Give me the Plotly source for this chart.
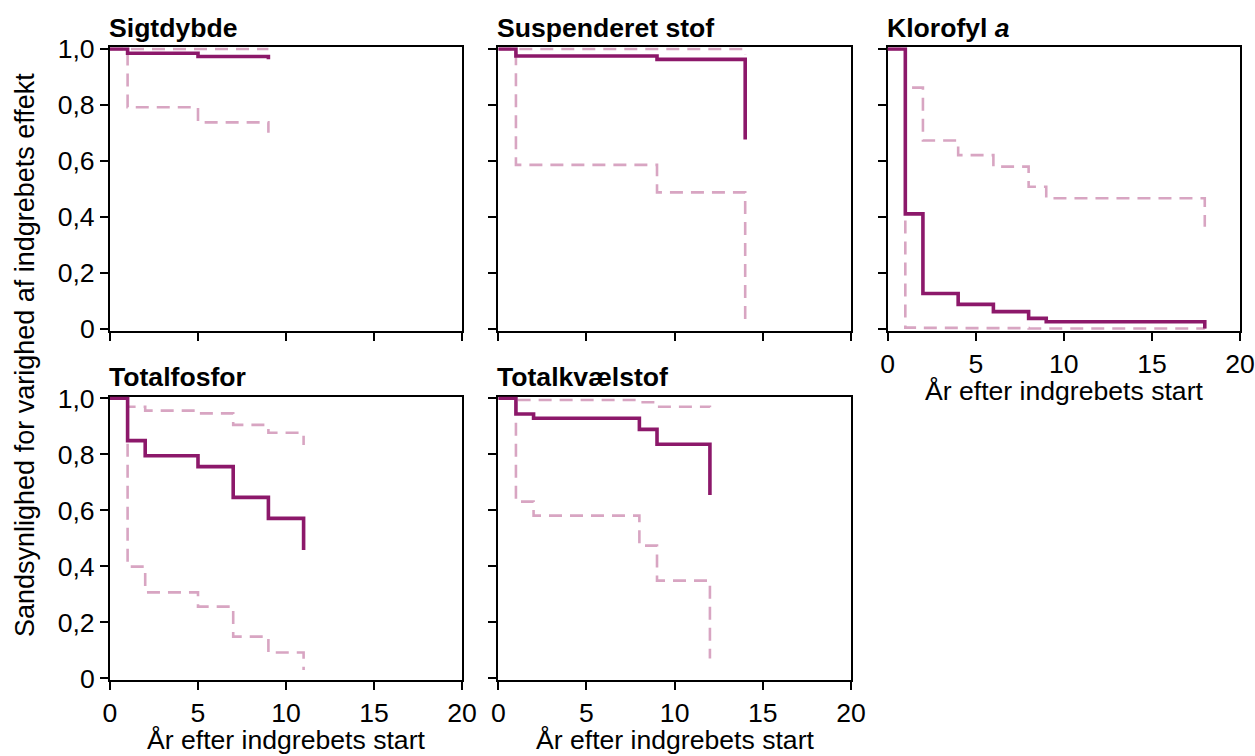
import plotly.graph_objects as go

# ---------------- data ----------------
titles = ["<b>Sigtdybde</b>", "<b>Suspenderet stof</b>", "<b>Klorofyl <i>a</i></b>",
          "<b>Totalfosfor</b>", "<b>Totalkvælstof</b>"]

sig_t = [0, 1, 5, 9]
sig_est = [1.0, 0.985, 0.973, 0.963]
sig_hi = [1.0, 1.0, 1.0, 1.0]
sig_lo = [1.0, 0.792, 0.738, 0.701]

sus_t = [0, 1, 9, 14]
sus_est = [1.0, 0.975, 0.963, 0.677]
sus_hi = [1.0, 1.0, 1.0, 0.981]
sus_lo = [1.0, 0.586, 0.488, 0.032]

klo_t = [0, 1, 2, 4, 6, 8, 9, 18]
klo_est = [1.0, 0.411, 0.127, 0.088, 0.062, 0.038, 0.026, 0.002]
klo_hi = [1.0, 0.862, 0.673, 0.621, 0.580, 0.508, 0.467, 0.365]
klo_lo = [1.0, 0.005, 0.004, 0.003, 0.003, 0.002, 0.002, 0.001]

tp_t = [0, 1, 2, 5, 7, 9, 11]
tp_est = [1.0, 0.849, 0.795, 0.756, 0.646, 0.571, 0.458]
tp_hi = [1.0, 0.970, 0.956, 0.946, 0.905, 0.877, 0.833]
tp_lo = [1.0, 0.399, 0.307, 0.256, 0.149, 0.092, 0.030]

tn_t = [0, 1, 2, 8, 9, 12]
tn_est = [1.0, 0.944, 0.929, 0.889, 0.836, 0.655]
tn_hi = [1.0, 0.994, 0.994, 0.986, 0.970, 0.968]
tn_lo = [1.0, 0.631, 0.581, 0.474, 0.349, 0.071]

y_tickvals = [0, 0.2, 0.4, 0.6, 0.8, 1.0]
y_ticktext = ["0", "0,2", "0,4", "0,6", "0,8", "1,0"]
x_tickvals = [0, 5, 10, 15, 20]
x_ticktext = ["0", "5", "10", "15", "20"]

x_title = "År efter indgrebets start"
y_title = "Sandsynlighed for varighed af indgrebets effekt"

panels = [
    (sig_t, sig_est, sig_hi, sig_lo),
    (sus_t, sus_est, sus_hi, sus_lo),
    (klo_t, klo_est, klo_hi, klo_lo),
    (tp_t, tp_est, tp_hi, tp_lo),
    (tn_t, tn_est, tn_hi, tn_lo),
]

# ---------------- layout geometry (pixels) ----------------
W, H = 1255, 756
col_px = [(110, 462), (498.3, 851), (887.7, 1240)]
row_px = [(49, 329), (398.3, 678.3)]  # y pixel of value 1.0 and 0.0
pad = 0.006
YR = [-pad, 1 + pad]

SOLID = "#8C186A"
DASH = "#D8A5C2"
FONT = "Liberation Sans, Arial, Helvetica, sans-serif"
FS = 26.6
TFS = 27

fig = go.Figure()
layout = dict(
    width=W, height=H, autosize=False,
    margin=dict(l=0, r=0, t=0, b=0, pad=0),
    paper_bgcolor="white", plot_bgcolor="white",
    showlegend=False,
    font=dict(family=FONT, size=FS, color="black"),
)

positions = [(0, 0), (0, 1), (0, 2), (1, 0), (1, 1)]
annotations = []
for i, ((r, c), (t, est, hi, lo)) in enumerate(zip(positions, panels)):
    k = i + 1
    xa = "x" if k == 1 else f"x{k}"
    ya = "y" if k == 1 else f"y{k}"
    x0, x1 = col_px[c]
    ytop, ybot = row_px[r]
    ppu = ybot - ytop
    top_px = ytop - pad * ppu
    bot_px = ybot + pad * ppu
    xdom = [x0 / W, x1 / W]
    ydom = [1 - bot_px / H, 1 - top_px / H]

    for series in (hi, lo):
        fig.add_trace(go.Scatter(x=t, y=series, mode="lines", line_shape="hv",
                                 line=dict(color=DASH, width=2.6, dash="13px,8px"),
                                 xaxis=xa, yaxis=ya, hoverinfo="skip"))
    fig.add_trace(go.Scatter(x=t, y=est, mode="lines", line_shape="hv",
                             line=dict(color=SOLID, width=3.6),
                             xaxis=xa, yaxis=ya, hoverinfo="skip"))

    show_x_labels = (r == 1) or (c == 2)
    show_y_labels = (c == 0)
    axis_common = dict(showline=True, linecolor="black", linewidth=2, mirror=True,
                       ticks="outside", ticklen=8, tickwidth=2, tickcolor="black",
                       showgrid=False, zeroline=False, layer="below traces",
                       automargin=False,
                       tickfont=dict(family=FONT, size=FS, color="black"))
    layout["xaxis" if k == 1 else f"xaxis{k}"] = dict(
        domain=xdom, range=[0, 20], anchor=ya,
        tickvals=x_tickvals, ticktext=x_ticktext, showticklabels=show_x_labels,
        **axis_common)
    layout["yaxis" if k == 1 else f"yaxis{k}"] = dict(
        domain=ydom, range=YR, anchor=xa,
        tickvals=y_tickvals, ticktext=y_ticktext, showticklabels=show_y_labels,
        **axis_common)

    annotations.append(dict(text=titles[i], xref="paper", yref="paper",
                            x=(x0 - 3) / W, y=1 - (ytop - 21) / H, xanchor="left", yanchor="middle",
                            showarrow=False, font=dict(family=FONT, size=FS, color="black")))
    if show_x_labels:
        annotations.append(dict(text=x_title, xref="paper", yref="paper",
                                x=(x0 + x1) / 2 / W, y=1 - (ybot + 62) / H,
                                xanchor="center", yanchor="middle", showarrow=False,
                                font=dict(family=FONT, size=FS, color="black")))

annotations.append(dict(text=y_title, xref="paper", yref="paper",
                        x=25 / W, y=1 - 355 / H, xanchor="center", yanchor="middle",
                        textangle=-90, showarrow=False,
                        font=dict(family=FONT, size=TFS, color="black")))

layout["annotations"] = annotations
fig.update_layout(**layout)
fig.write_html("out.html")
